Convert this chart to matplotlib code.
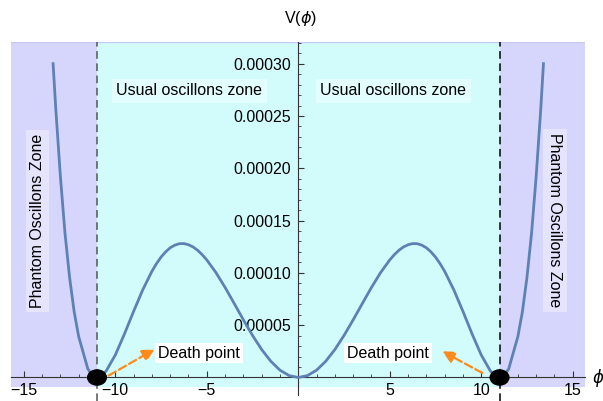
import matplotlib.pyplot as plt
from matplotlib.patches import Ellipse

plt.rcParams['font.family'] = ['Liberation Sans', 'DejaVu Sans']
plt.rcParams['mathtext.fontset'] = 'dejavusans'

# V(phi), positive half (curve is symmetric)
phi_pos = [0, 0.5, 1, 1.5, 2, 2.5, 3, 3.5, 4, 4.5, 5, 5.25, 5.5, 5.75, 6,
           6.25, 6.5, 6.75, 7, 7.25, 7.5, 7.75, 8, 8.5, 9, 9.5, 10, 10.5,
           10.75, 11, 11.25, 11.5, 12, 12.25, 12.5, 12.75, 13, 13.25, 13.4]
v_pos = [0, 1.8e-6, 7.0e-6, 1.55e-5, 2.67e-5, 4.02e-5, 5.51e-5, 7.07e-5,
         8.61e-5, 1.003e-4, 1.124e-4, 1.174e-4, 1.216e-4, 1.248e-4, 1.269e-4,
         1.280e-4, 1.279e-4, 1.265e-4, 1.240e-4, 1.201e-4, 1.151e-4,
         1.088e-4, 1.015e-4, 8.38e-5, 6.32e-5, 4.16e-5, 2.15e-5, 6.2e-6,
         1.7e-6, 0, 1.9e-6, 8.2e-6, 3.9e-5, 6.3e-5, 9.6e-5, 1.38e-4,
         1.92e-4, 2.56e-4, 3.0e-4]

phi = [-p for p in phi_pos[::-1]] + phi_pos[1:]
v = v_pos[::-1] + v_pos[1:]

death_x = [-11, 11]
x_ticks = [-15, -10, -5, 5, 10, 15]
x_tick_labels = ['\u221215', '\u221210', '\u22125', '5', '10', '15']
y_ticks = [0.00005, 0.00010, 0.00015, 0.00020, 0.00025, 0.00030]
y_tick_labels = ['0.00005', '0.00010', '0.00015', '0.00020', '0.00025', '0.00030']

lavender = '#D6D6FC'
cyan = '#D2FCFC'
blue = '#5E81B5'
orange = '#FF8A1A'

fig = plt.figure(figsize=(6.03, 4.01), dpi=100)
ax = fig.add_axes([11 / 603, 14.3 / 401, 574 / 603, 344.7 / 401])
xmin, xmax = -15.7, 15.67
ymin, ymax = -0.0000088, 0.0003207
ax.set_xlim(xmin, xmax)
ax.set_ylim(ymin, ymax)

# zones
ax.axvspan(xmin, -11, color=lavender, lw=0, zorder=0)
ax.axvspan(-11, 11, color=cyan, lw=0, zorder=0)
ax.axvspan(11, xmax, color=lavender, lw=0, zorder=0)
ax.axhline(ymax, color='#C8C8F4', lw=1, zorder=0.5)

# dashed borders
ax.axvline(-11, ymin=-0.042, ymax=1, color='#555555', lw=1.1,
           linestyle=(0, (5, 3)), clip_on=False, zorder=1)
ax.axvline(11, ymin=-0.042, ymax=1, color='black', lw=1.1,
           linestyle=(0, (5, 3)), clip_on=False, zorder=1)

# axes through origin
for s in ['top', 'right']:
    ax.spines[s].set_visible(False)
ax.spines['left'].set_position(('data', 0))
ax.spines['bottom'].set_position(('data', 0))
ax.spines['left'].set_color('#333333')
ax.spines['bottom'].set_color('#333333')
ax.plot([0, 0], [ymin, -0.0000165], color='#333333', lw=0.8, clip_on=False)

ax.set_xticks(x_ticks)
ax.set_xticklabels(x_tick_labels)
ax.set_xticks(range(-15, 16), minor=True)
ax.set_yticks(y_ticks)
ax.set_yticklabels(y_tick_labels)
ax.set_yticks([i * 0.00001 for i in range(1, 33)], minor=True)
ax.tick_params(which='major', direction='in', length=4, width=0.8,
               color='#333333', labelsize=11.5)
ax.tick_params(which='minor', direction='in', length=2.2, width=0.6,
               color='#333333')
ax.tick_params(axis='x', pad=4)
ax.tick_params(axis='y', pad=5)

# potential curve
ax.plot(phi, v, color=blue, lw=2, zorder=3)

# death points
for dx in death_x:
    ax.add_patch(Ellipse((dx, 0), 1.02, 1.45e-5, color='black', zorder=5))

# arrows
ax.annotate('', xy=(-7.72, 2.82e-5), xytext=(-10.5, 0.5e-6),
            arrowprops=dict(arrowstyle='-|>', color=orange, lw=1.6,
                            linestyle='--', mutation_scale=18), zorder=4)
ax.annotate('', xy=(7.74, 2.63e-5), xytext=(10.2, 3.0e-6),
            arrowprops=dict(arrowstyle='-|>', color=orange, lw=1.6,
                            linestyle='--', mutation_scale=18), zorder=4)

# labels
box_white = dict(facecolor='white', edgecolor='none', pad=2)
ax.text(-7.66, 2.34e-5, 'Death point', fontsize=11.5, va='center',
        ha='left', bbox=box_white, zorder=6)
ax.text(2.66, 2.34e-5, 'Death point', fontsize=11.5, va='center',
        ha='left', bbox=box_white, zorder=6)

box_cyan = dict(facecolor='#E2FEFE', edgecolor='none', pad=3)
ax.text(-5.95, 2.739e-4, 'Usual oscillons zone', fontsize=11.5,
        ha='center', va='center', bbox=box_cyan, zorder=6)
ax.text(5.2, 2.739e-4, 'Usual oscillons zone', fontsize=11.5,
        ha='center', va='center', bbox=box_cyan, zorder=6)

box_lav = dict(facecolor='#E4E4FD', edgecolor='none', pad=3)
ax.text(-14.27, 1.496e-4, 'Phantom Oscillons Zone', fontsize=11.5,
        rotation=90, ha='center', va='center', bbox=box_lav, zorder=6)
ax.text(14.03, 1.5e-4, 'Phantom Oscillons Zone', fontsize=11.5,
        rotation=-90, ha='center', va='center', bbox=box_lav, zorder=6)

fig.text(300 / 603, 1 - 18 / 401, r'V($\phi$)', fontsize=11.5,
         ha='center', va='center')
fig.text(592 / 603, 1 - 378 / 401, r'$\phi$', fontsize=12,
         ha='left', va='center')

fig.savefig('out.png', dpi=100)
